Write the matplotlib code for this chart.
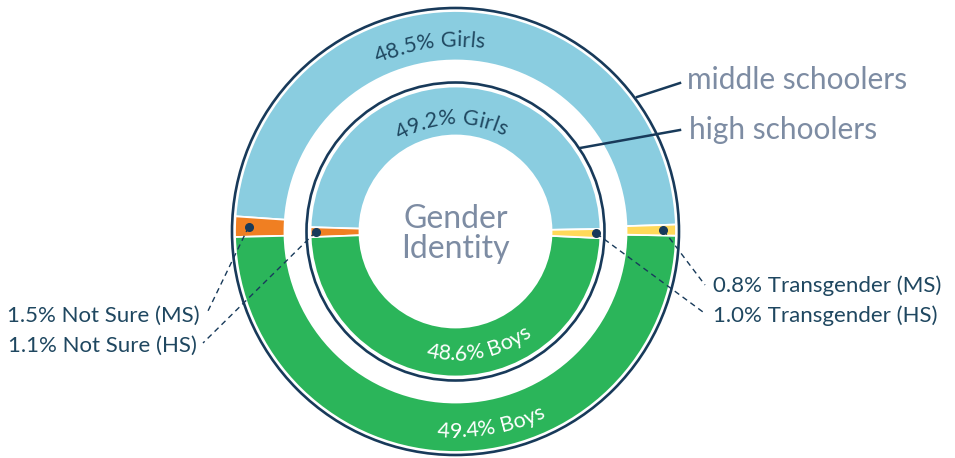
import numpy as np
import matplotlib
matplotlib.use("Agg")
import matplotlib.pyplot as plt
from matplotlib.patches import Circle
from matplotlib.font_manager import FontProperties
from matplotlib.textpath import TextToPath

plt.rcParams['font.family'] = ['Lato', 'DejaVu Sans']

# data (percent), counterclockwise from the right: Girls, Not Sure, Boys, Transgender
categories = ['Girls', 'Not Sure', 'Boys', 'Transgender']
ms_values = [48.5, 1.5, 49.4, 0.8]   # middle schoolers (outer ring)
hs_values = [49.2, 1.1, 48.6, 1.0]   # high schoolers (inner ring)
colors = ['#8acde0', '#f07f22', '#2bb55a', '#ffd95a']

navy = '#183a5a'
label_col = '#1f4760'
grey = '#7d8ca3'

W, H = 955, 458
cx, cy = 455.5, H - 231.5

fig = plt.figure(figsize=(W / 100, H / 100), dpi=100)
ax = fig.add_axes([0, 0, 1, 1])

outer = ax.pie(ms_values, colors=colors, radius=220.5, center=(cx, cy),
               startangle=1.8, counterclock=True,
               wedgeprops=dict(width=49.5, edgecolor='white', linewidth=1.3))[0]
inner = ax.pie(hs_values, colors=colors, radius=145, center=(cx, cy),
               startangle=1.0, counterclock=True,
               wedgeprops=dict(width=49, edgecolor='white', linewidth=1.3))[0]

ax.add_patch(Circle((cx, cy), 223.5, fill=False, ec=navy, lw=1.9))
ax.add_patch(Circle((cx, cy), 149, fill=False, ec=navy, lw=1.9))

ttp = TextToPath()


def curved_text(s, r_base, mid_deg, size, color, top=True):
    prop = FontProperties(family='Lato', size=size)
    def width(t):
        if not t:
            return 0.0
        return ttp.get_text_width_height_descent(t, prop, ismath=False)[0] * 100 / 72
    total = width(s)
    for i, ch in enumerate(s):
        off = (width(s[:i]) + width(s[:i + 1])) / 2 - total / 2
        dth = np.degrees(off / r_base)
        if top:
            th = mid_deg - dth
            rot = th - 90
        else:
            th = mid_deg + dth
            rot = th + 90
        x = cx + r_base * np.cos(np.radians(th))
        y = cy + r_base * np.sin(np.radians(th))
        ax.text(x, y, ch, fontsize=size, color=color, rotation=rot,
                rotation_mode='anchor', ha='center', va='baseline',
                family='Lato')


curved_text(f"{ms_values[0]}% Girls", 185, 98.0, 15.5, label_col, top=True)
curved_text(f"{hs_values[0]}% Girls", 107, 92.5, 15.5, label_col, top=True)
curved_text(f"{hs_values[2]}% Boys", 129, 281.4, 15.5, 'white', top=False)
curved_text(f"{ms_values[2]}% Boys", 206, 280.4, 15.5, 'white', top=False)

ax.text(cx, H - 234, "Gender\nIdentity", ha='center', va='center',
        fontsize=23, color=grey, linespacing=1.0)


def wedge_point(w, r):
    th = np.radians((w.theta1 + w.theta2) / 2)
    return cx + r * np.cos(th), cy + r * np.sin(th)


# leader lines and labels for the small slices
small = [
    (outer[1], 207, (207, H - 313), f"{ms_values[1]}% Not Sure (MS)", (200, H - 316), 'right'),
    (inner[1], 140, (203, H - 343), f"{hs_values[1]}% Not Sure (HS)", (197, H - 346), 'right'),
    (outer[3], 208, (705, H - 285), f"{ms_values[3]}% Transgender (MS)", (713, H - 286), 'left'),
    (inner[3], 141, (703, H - 312), f"{hs_values[3]}% Transgender (HS)", (713, H - 316), 'left'),
]
for w, r, end, txt, tpos, ha in small:
    px, py = wedge_point(w, r)
    ax.plot([px, end[0]], [py, end[1]], color=navy, lw=1, ls=(0, (4, 3)))
    ax.plot(px, py, 'o', color=navy, ms=5.5)
    ax.text(tpos[0], tpos[1], txt, ha=ha, va='center', fontsize=16, color=label_col)

# ring names
ax.plot([637, 680], [H - 97, H - 83], color=navy, lw=1.8)
ax.plot([580, 680], [H - 148, H - 130], color=navy, lw=1.8)
ax.text(687, H - 80, "middle schoolers", ha='left', va='center', fontsize=21.5, color=grey)
ax.text(689, H - 130, "high schoolers", ha='left', va='center', fontsize=21.5, color=grey)

ax.set_xlim(0, W)
ax.set_ylim(0, H)
ax.set_aspect('equal')
ax.set_axis_off()

fig.savefig("out.png", dpi=100)
